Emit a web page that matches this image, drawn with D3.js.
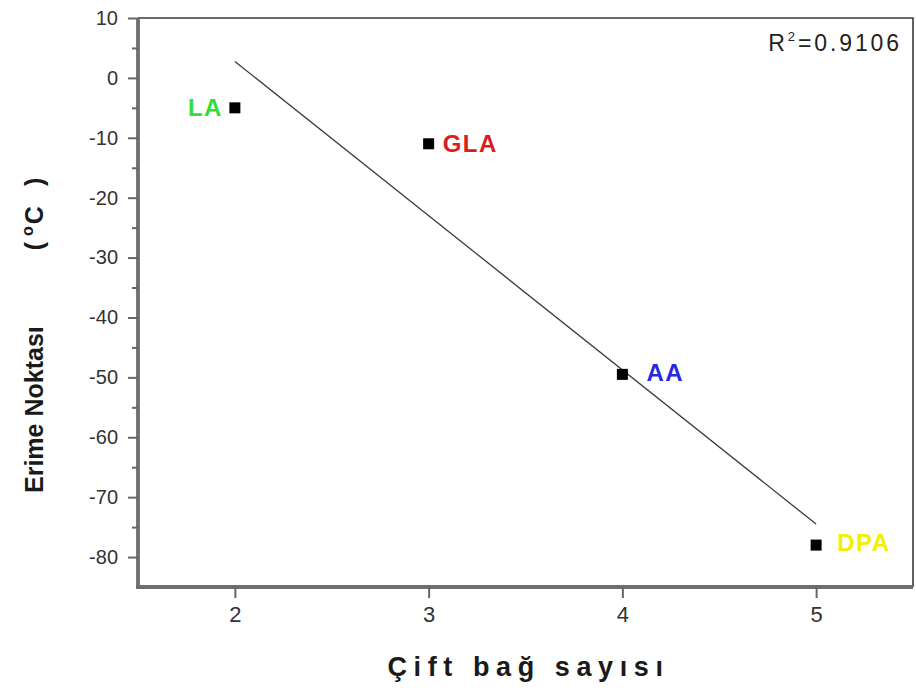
<!DOCTYPE html>
<html>
<head>
<meta charset="utf-8">
<script src="https://cdn.jsdelivr.net/npm/d3@7/dist/d3.min.js"></script>
<style>
  html, body { margin: 0; padding: 0; background: #fff; }
  svg { display: block; font-family: "Liberation Sans", Arial, sans-serif; }
</style>
</head>
<body>
<svg id="chart" width="916" height="692"></svg>
<script>
// Melting point of fatty acids against number of double bonds
const acids = ["LA", "GLA", "AA", "DPA"];
const doubleBonds = [2, 3, 4, 5];
const meltingPoints = [-5, -11, -49.5, -78];
const labelColors = ["#33dd33", "#d82020", "#2828e0", "#f2f000"];
const xTicks = [2, 3, 4, 5];
const yTicks = [10, 0, -10, -20, -30, -40, -50, -60, -70, -80];
const yMinorTicks = [5, -5, -15, -25, -35, -45, -55, -65, -75];
const rSquaredText = "0.9106";

const svg = d3.select("#chart");
const plotLeft = 138, plotRight = 913, plotTop = 18, plotBottom = 587;

const x = d3.scaleLinear().domain([1.5, 5.5]).range([plotLeft, plotRight]);
const y = d3.scaleLinear().domain([-85, 10]).range([plotBottom, plotTop]);

// least-squares fit line
const n = doubleBonds.length;
const mx = d3.mean(doubleBonds), my = d3.mean(meltingPoints);
let sxy = 0, sxx = 0;
for (let i = 0; i < n; i++) {
  sxy += (doubleBonds[i] - mx) * (meltingPoints[i] - my);
  sxx += (doubleBonds[i] - mx) ** 2;
}
const slope = sxy / sxx, intercept = my - slope * mx;

// tick labels use a plain hyphen for negatives
const fmt = d => String(d);

// frame: thin top/right border
svg.append("path")
  .attr("d", `M${plotLeft},${plotTop}H${plotRight}V${plotBottom}`)
  .attr("fill", "none").attr("stroke", "#3a3a3a").attr("stroke-width", 1.6);

// y axis
const yAxis = svg.append("g").attr("transform", `translate(${plotLeft},0)`)
  .call(d3.axisLeft(y).tickValues(yTicks).tickSize(10).tickPadding(10).tickFormat(fmt));
svg.append("g").attr("transform", `translate(${plotLeft},0)`)
  .call(d3.axisLeft(y).tickValues(yMinorTicks).tickSize(6).tickFormat(""))
  .call(g => g.select(".domain").remove())
  .selectAll("line").attr("stroke", "#666").attr("stroke-width", 2);

// x axis
const xAxis = svg.append("g").attr("transform", `translate(0,${plotBottom})`)
  .call(d3.axisBottom(x).tickValues(xTicks).tickSize(11).tickPadding(8).tickFormat(fmt));

[yAxis, xAxis].forEach(g => {
  g.select(".domain").attr("stroke", "#6e6e6e").attr("stroke-width", 3.8);
  g.selectAll(".tick line").attr("stroke", "#666").attr("stroke-width", 2);
  g.selectAll(".tick text").attr("fill", "#333").attr("font-size", 20)
    .attr("font-family", "'Liberation Sans', Arial, sans-serif");
});
yAxis.select(".domain").attr("d", `M0,${plotTop}V${plotBottom + 1.9}`);
xAxis.select(".domain").attr("d", `M${plotLeft - 1.9},0H${plotRight}`);
xAxis.selectAll(".tick text").attr("font-size", 22);

// regression line
svg.append("line")
  .attr("x1", x(2)).attr("y1", y(intercept + slope * 2))
  .attr("x2", x(5)).attr("y2", y(intercept + slope * 5))
  .attr("stroke", "#3c3c3c").attr("stroke-width", 1.3);

// data points
svg.selectAll("rect.pt").data(acids).join("rect").attr("class", "pt")
  .attr("x", (d, i) => x(doubleBonds[i]) - 5.5)
  .attr("y", (d, i) => y(meltingPoints[i]) - 5.5)
  .attr("width", 11).attr("height", 11).attr("fill", "#000");

// point labels
const labelDx = [-12, 14, 24, 21];
const labelDy = [0, 0, -2, -3];
svg.selectAll("text.lbl").data(acids).join("text").attr("class", "lbl")
  .attr("x", (d, i) => x(doubleBonds[i]) + labelDx[i])
  .attr("y", (d, i) => y(meltingPoints[i]) + labelDy[i])
  .attr("dy", "0.36em")
  .attr("text-anchor", (d, i) => labelDx[i] < 0 ? "end" : "start")
  .attr("font-size", 24).attr("font-weight", "bold")
  .attr("letter-spacing", 1.5)
  .attr("fill", (d, i) => labelColors[i])
  .text(d => d);

// R² annotation
const rt = svg.append("text").attr("x", 902).attr("y", 51)
  .attr("text-anchor", "end").attr("font-size", 23).attr("fill", "#222")
  .attr("letter-spacing", 2.9);
rt.append("tspan").text("R");
rt.append("tspan").attr("font-size", 13).attr("dy", -10).text("2");
rt.append("tspan").attr("dy", 10).text("=" + rSquaredText);

// axis titles
svg.append("text").attr("x", (plotLeft + plotRight) / 2 + 3).attr("y", 676)
  .attr("text-anchor", "middle").attr("font-size", 27).attr("font-weight", "bold")
  .attr("letter-spacing", 6.6)
  .attr("fill", "#1a1a1a").text("Çift bağ sayısı");

const yt = svg.append("text")
  .attr("transform", "translate(43,493) rotate(-90)")
  .attr("text-anchor", "start").attr("font-size", 25).attr("font-weight", "bold")
  .attr("fill", "#1a1a1a");
yt.append("tspan").text("Erime Noktası");
yt.append("tspan").attr("dx", 76).text("(");
yt.append("tspan").attr("dx", 6).attr("font-size", 16).attr("dy", -10).text("o");
yt.append("tspan").attr("dx", 2).attr("dy", 10).text("C");
yt.append("tspan").attr("dx", 20).text(")");
</script>
</body>
</html>
